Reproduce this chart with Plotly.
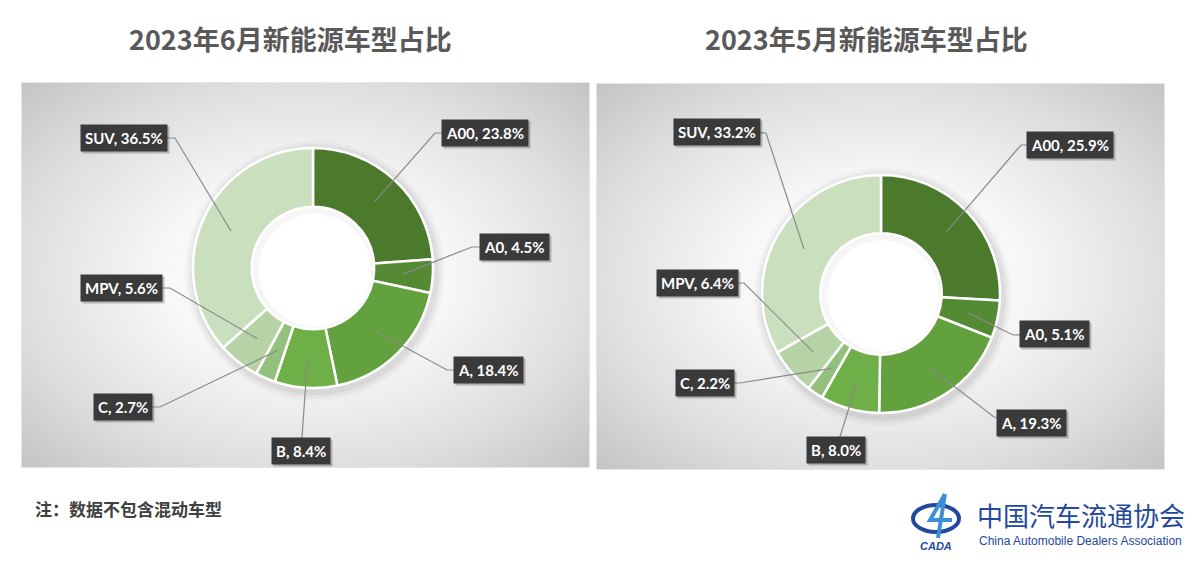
import base64
import math
import plotly.graph_objects as go

# ---------------- data ----------------
categories = ["A00", "A0", "A", "B", "C", "MPV", "SUV"]
june_values = [23.8, 4.5, 18.4, 8.4, 2.7, 5.6, 36.5]
may_values = [25.9, 5.1, 19.3, 8.0, 2.2, 6.4, 33.2]
june_title = "2023年6月新能源车型占比"
may_title = "2023年5月新能源车型占比"
note_text = "注：数据不包含混动车型"
org_cn = "中国汽车流通协会"
org_en = "China Automobile Dealers Association"

# ---------------- style / layout ----------------
W, H = 1200, 566
colors = ["#4c7a2d", "#548a33", "#63a03e", "#6faf47", "#93c07d", "#b5d3a4", "#c9dfbe"]
HOLE = 0.51

def px(x):
    return x / W

def py(y):
    return 1 - y / H

# panel rects (pixels: x0, y0, x1, y1)
panels = [(21, 82, 590, 468), (596, 83, 1165, 470)]

# donut geometry in pixels (cx, cy, R)
donuts = [(313, 268, 120), (881, 294, 119)]

# label box centres and elbow points (pixels) per chart
label_pos = [
    {
        "A00": ((485, 133), (435, 133)),
        "A0": ((514, 247), (472, 247)),
        "A": ((488, 370), (447, 370)),
        "B": ((301, 451), None),
        "C": ((123, 407), (160, 407)),
        "MPV": ((121, 288), (170, 288)),
        "SUV": ((124, 138), (175, 138)),
    },
    {
        "A00": ((1070, 145), (1021, 145)),
        "A0": ((1054, 334), (1013, 335)),
        "A": ((1031, 423), (994, 417)),
        "B": ((836, 450), None),
        "C": ((705, 383), (740, 383)),
        "MPV": ((697, 283), (744, 283)),
        "SUV": ((717, 132), (766, 133)),
    },
]

def gradient_svg(w, h):
    svg = (
        f"<svg xmlns='http://www.w3.org/2000/svg' width='{w}' height='{h}' viewBox='0 0 {w} {h}' preserveAspectRatio='none'>"
        "<defs><radialGradient id='g' cx='0.5' cy='0.5' r='0.72'>"
        "<stop offset='0' stop-color='#ffffff'/>"
        "<stop offset='0.35' stop-color='#f7f7f7'/>"
        "<stop offset='0.7' stop-color='#dedede'/>"
        "<stop offset='1' stop-color='#c2c2c2'/>"
        "</radialGradient></defs>"
        f"<rect x='0' y='0' width='{w}' height='{h}' fill='url(#g)' stroke='#e6e6e6' stroke-width='2'/>"
        "</svg>"
    )
    return "data:image/svg+xml;base64," + base64.b64encode(svg.encode()).decode()

fig = go.Figure()
images = []
shapes = []
annotations = []

def box_note(x, y, text, font, **kw):
    d = dict(x=px(x), y=py(y), xref="paper", yref="paper", text=text, showarrow=False,
             xanchor="center", yanchor="middle", font=font)
    d.update(kw)
    annotations.append(d)

for ci, (values, (cx, cy, R)) in enumerate(zip([june_values, may_values], donuts)):
    # background panel
    x0, y0, x1, y1 = panels[ci]
    images.append(dict(
        source=gradient_svg(x1 - x0, y1 - y0), xref="paper", yref="paper",
        x=px(x0), y=py(y0), sizex=(x1 - x0) / W, sizey=(y1 - y0) / H,
        sizing="stretch", layer="below", xanchor="left", yanchor="top",
    ))
    # soft shadow under donut
    for k, a in enumerate([0.025, 0.035, 0.05]):
        d = 10 - 3 * k
        shapes.append(dict(type="circle", xref="paper", yref="paper",
                           x0=px(cx - R - d + 2), x1=px(cx + R + d + 2),
                           y0=py(cy + R + d + 3), y1=py(cy - R - d + 3),
                           fillcolor=f"rgba(0,0,0,{a})", line=dict(width=0), layer="below"))
    # white hole with faint inner shading
    r = R * HOLE
    shapes.append(dict(type="circle", xref="paper", yref="paper",
                       x0=px(cx - r), x1=px(cx + r), y0=py(cy + r), y1=py(cy - r),
                       fillcolor="#f6f6f6", line=dict(width=0), layer="below"))
    r2 = r - 5
    shapes.append(dict(type="circle", xref="paper", yref="paper",
                       x0=px(cx - r2 + 2), x1=px(cx + r2 + 2), y0=py(cy + r2 + 2), y1=py(cy - r2 + 2),
                       fillcolor="#ffffff", line=dict(width=0), layer="below"))

    fig.add_trace(go.Pie(
        labels=categories, values=values,
        domain=dict(x=[px(cx - R), px(cx + R)], y=[py(cy + R), py(cy - R)]),
        hole=HOLE, sort=False, direction="clockwise", rotation=0,
        marker=dict(colors=colors, line=dict(color="white", width=2.5)),
        textinfo="none", showlegend=False,
        hovertemplate="%{label}: %{value}%<extra></extra>",
    ))

    total = sum(values)
    cum = 0.0
    for cat, v in zip(categories, values):
        mid = (cum + v / 2) / total * 2 * math.pi
        cum += v
        ax = cx + 0.75 * R * math.sin(mid)
        ay = cy - 0.75 * R * math.cos(mid)
        (bx, by), elbow = label_pos[ci][cat]
        pts = [(ax, ay)] + ([elbow] if elbow else []) + [(bx, by)]
        path = "M " + " L ".join(f"{px(p[0])},{py(p[1])}" for p in pts)
        shapes.append(dict(type="path", xref="paper", yref="paper", path=path,
                           line=dict(color="#8a8a8a", width=1.2), layer="above"))
        txt = f"{cat}, {v}%"
        box_note(bx, by, txt, dict(family="Lato", size=15, color="rgba(0,0,0,0)", weight="bold"),
                 xshift=2, yshift=-2, bgcolor="rgba(0,0,0,0.22)", borderpad=4)
        box_note(bx, by, txt, dict(family="Lato", size=15, color="white", weight="bold"),
                 bgcolor="#3a3a3a", borderpad=4)

# titles
for t, x in [(june_title, 290), (may_title, 866)]:
    box_note(x, 38, t, dict(family="Noto Sans CJK SC", size=27, color="#595959", weight="bold"))

# note
box_note(33, 508, note_text, dict(family="Noto Sans CJK SC", size=17, color="#404040", weight="bold"),
         xanchor="left")

# logo
box_note(975, 514, org_cn, dict(family="Noto Sans CJK SC", size=26, color="#23499c"), xanchor="left")
box_note(977, 541, org_en, dict(family="Liberation Sans", size=12, color="#23499c"), xanchor="left")
box_note(936, 546, "<i><b>CADA</b></i>", dict(family="Liberation Sans", size=11, color="#23499c"))
shapes.append(dict(type="circle", xref="paper", yref="paper",
                   x0=px(913), x1=px(959), y0=py(532), y1=py(505),
                   line=dict(color="#23499c", width=4), fillcolor="rgba(0,0,0,0)"))
shapes.append(dict(type="path", xref="paper", yref="paper",
                   path=f"M {px(945)},{py(494)} L {px(930)},{py(520)} L {px(952)},{py(520)} M {px(945)},{py(494)} L {px(938)},{py(538)}",
                   line=dict(color="#3d8fd8", width=4)))

fig.update_layout(
    width=W, height=H, margin=dict(l=0, r=0, t=0, b=0),
    paper_bgcolor="white", plot_bgcolor="white",
    images=images, shapes=shapes, annotations=annotations,
)

fig.write_html("out.html", config={"displayModeBar": False},
               post_script="document.body.style.margin='0';")
